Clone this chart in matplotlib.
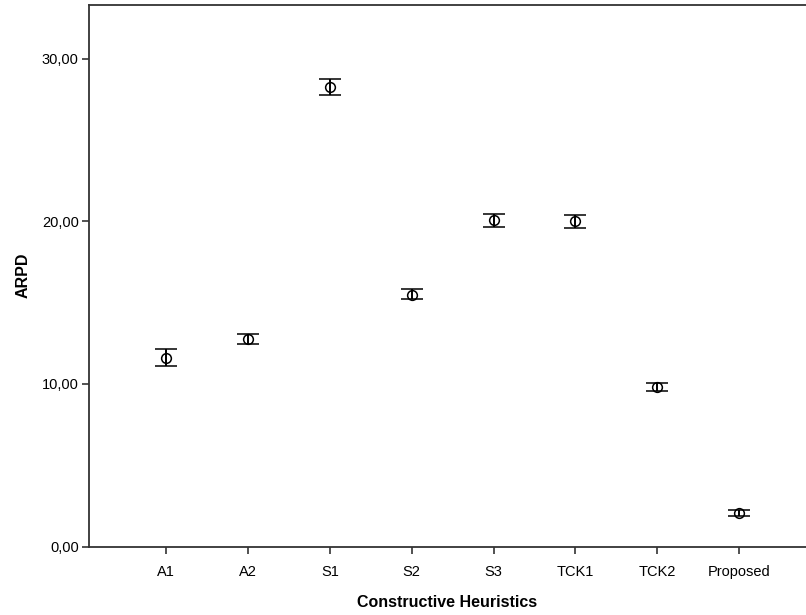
import matplotlib
matplotlib.use("Agg")
from matplotlib import pyplot as plt
from matplotlib.ticker import FuncFormatter
import numpy as np

plt.rcParams['font.family'] = ['Liberation Sans', 'DejaVu Sans']

# Data (mean and 95% CI bounds)
heuristics = ["A1", "A2", "S1", "S2", "S3", "TCK1", "TCK2", "Proposed"]
mean = [11.58, 12.76, 28.28, 15.48, 20.08, 20.00, 9.80, 2.07]
upper = [12.13, 13.07, 28.75, 15.83, 20.47, 20.41, 10.04, 2.27]
lower = [11.10, 12.45, 27.77, 15.20, 19.69, 19.59, 9.56, 1.87]

x = np.arange(len(heuristics))
err = [np.array(mean) - np.array(lower), np.array(upper) - np.array(mean)]

fig = plt.figure(figsize=(8.06, 6.15), dpi=100)
ax = fig.add_axes([88.5/806, 68.5/615, (806-88.5)/806, 542/615])

ax.errorbar(x, mean, yerr=err, fmt='o', mfc='none', mec='black', mew=1.1,
            ms=7, ecolor='black', elinewidth=1.4, capsize=8, capthick=1.4)

ax.set_xlim(-0.946, (806-166)/81.9)
ax.set_ylim(0, 33.35)
ax.set_xticks(x)
ax.set_xticklabels(heuristics)
ax.set_yticks([0, 10, 20, 30])
ax.yaxis.set_major_formatter(FuncFormatter(lambda v, p: f"{v:.2f}".replace('.', ',')))

for s in ['left', 'bottom', 'top']:
    ax.spines[s].set_color('#333333')
    ax.spines[s].set_linewidth(1.3)
ax.spines['right'].set_visible(False)
ax.tick_params(direction='out', length=5, width=1.2, color='#333333', labelsize=10.5)
ax.tick_params(axis='x', pad=8)
ax.tick_params(axis='y', pad=2)

ax.set_xlabel("Constructive Heuristics", fontsize=11.5, fontweight='bold', labelpad=12)
ax.set_ylabel("ARPD", fontsize=11.5, fontweight='bold', labelpad=8)

fig.savefig("out.png", dpi=100)
